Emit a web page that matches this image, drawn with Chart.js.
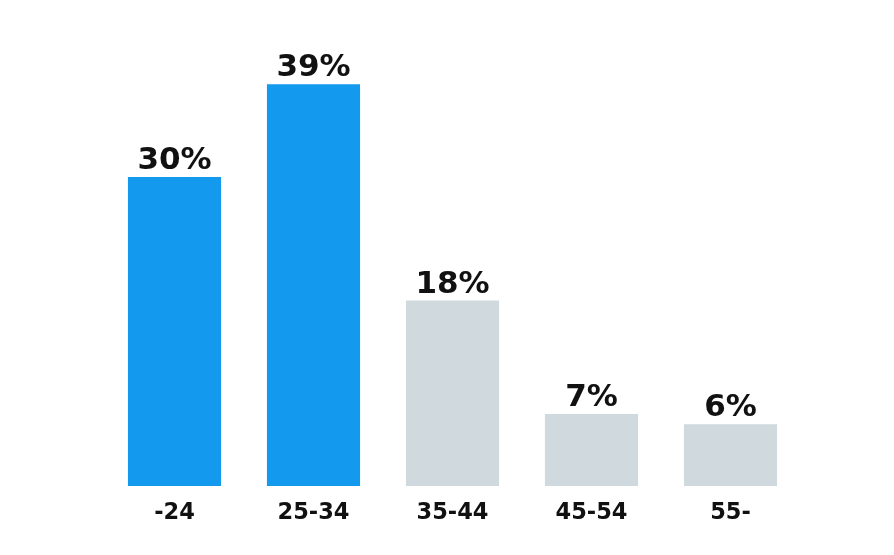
<!DOCTYPE html>
<html>
<head>
<meta charset="utf-8">
<script src="https://cdn.jsdelivr.net/npm/chart.js@4"></script>
<style>
  html, body { margin: 0; padding: 0; background: #fff; }
  #wrap { width: 894px; height: 555px; }
</style>
</head>
<body>
<div id="wrap"><canvas id="c" width="894" height="555"></canvas></div>
<script>
// 年齢層ごとの割合
const ageGroups = ['-24', '25-34', '35-44', '45-54', '55-'];
const shares = [30, 39, 18, 7, 6];
const barColors = ['#1399ED', '#1399ED', '#CFD9DE', '#CFD9DE', '#CFD9DE'];

// 棒の上に "xx%" を描く
const valueLabels = {
    id: 'valueLabels',
    afterDatasetsDraw(chart) {
        const ctx = chart.ctx;
        const meta = chart.getDatasetMeta(0);
        ctx.save();
        ctx.font = 'bold 31px "DejaVu Sans"';
        ctx.fillStyle = '#111';
        ctx.textAlign = 'center';
        ctx.textBaseline = 'alphabetic';
        meta.data.forEach((bar, i) => {
            ctx.fillText(shares[i] + '%', bar.x, bar.y - 8);
        });
        ctx.restore();
    }
};

new Chart(document.getElementById('c').getContext('2d'), {
    type: 'bar',
    data: {
        labels: ageGroups,
        datasets: [{ data: shares, backgroundColor: barColors, borderWidth: 0, barPercentage: 0.67, categoryPercentage: 1 }]
    },
    options: {
        responsive: false,
        animation: false,
        layout: { padding: { left: 105, right: 94, top: 74, bottom: 15 } },
        plugins: { legend: { display: false }, tooltip: { enabled: false } },
        scales: {
            x: {
                grid: { display: false, drawTicks: false },
                border: { display: false },
                ticks: { color: '#111', padding: 13.5, font: { family: '"DejaVu Sans"', size: 22.5, weight: 'bold' } }
            },
            y: { display: false, min: 0, max: 40 }
        }
    },
    plugins: [valueLabels]
});
</script>
</body>
</html>
